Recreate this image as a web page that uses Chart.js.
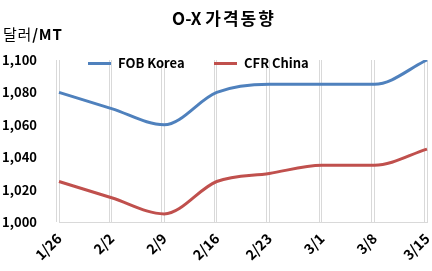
<!DOCTYPE html>
<html>
<head>
<meta charset="utf-8">
<script src="https://cdn.jsdelivr.net/npm/chart.js@4"></script>
<style>
  html, body { margin: 0; padding: 0; background: #fff; }
  #wrap { position: relative; width: 432px; height: 271px; font-family: "Noto Sans CJK KR", "Noto Sans", sans-serif; }
  #title { position: absolute; left: 8px; width: 432px; top: 18px; line-height: 0; text-align: center; font-size: 17px; font-weight: bold; color: #000; }
  #title span { letter-spacing: 2px; }
  #unit { position: absolute; left: 3px; top: 34px; line-height: 0; font-size: 15px; letter-spacing: 0.8px; color: #000; }
  #unit b { font-weight: bold; }
  .leg { position: absolute; top: 63px; line-height: 0; font-size: 13px; font-weight: bold; color: #000; white-space: nowrap; }
  .leg i { display: inline-block; width: 23px; height: 3px; vertical-align: middle; margin-right: 7px; position: relative; top: -1px; }
</style>
</head>
<body>
<div id="wrap">
  <canvas id="chart"></canvas>
  <div id="title">O-X <span>가격동향</span></div>
  <div id="unit">달러<b>/MT</b></div>
  <div class="leg" style="left:88px"><i style="background:#4F81BD"></i>FOB Korea</div>
  <div class="leg" style="left:214px"><i style="background:#C0504D"></i>CFR China</div>
</div>
<script>
const weeks = ["1/26", "2/2", "2/9", "2/16", "2/23", "3/1", "3/8", "3/15"]
const fobKorea = [1080, 1070, 1060, 1080, 1085, 1085, 1085, 1100]
const cfrChina = [1025, 1015, 1005, 1025, 1030, 1035, 1035, 1045]

/* second gridline a few px left of each category, like the excel original */
const doubleGrid = {
  id: "doubleGrid",
  beforeDatasetsDraw(chart) {
    const { ctx, chartArea, scales } = chart
    ctx.save()
    ctx.strokeStyle = "#d9d9d9"
    ctx.lineWidth = 1
    scales.x.ticks.forEach((t, i) => {
      const x = Math.round(scales.x.getPixelForTick(i)) - 3 + 0.5
      ctx.beginPath()
      ctx.moveTo(x, chartArea.top)
      ctx.lineTo(x, chartArea.bottom)
      ctx.stroke()
    })
    ctx.restore()
  }
}

new Chart(document.getElementById("chart"), {
  type: "line",
  data: {
    labels: weeks,
    datasets: [
      { label: "FOB Korea", data: fobKorea, borderColor: "#4F81BD", borderWidth: 3, pointRadius: 0, cubicInterpolationMode: "monotone" },
      { label: "CFR China", data: cfrChina, borderColor: "#C0504D", borderWidth: 3, pointRadius: 0, cubicInterpolationMode: "monotone" }
    ]
  },
  options: {
    responsive: true,
    maintainAspectRatio: false,
    animation: false,
    layout: { padding: { top: 60, right: 5, left: 0, bottom: 0 } },
    plugins: { legend: { display: false }, title: { display: false }, tooltip: { enabled: false } },
    scales: {
      x: {
        offset: false,
        afterFit: s => { s.height = 49; s.paddingRight = 0 },
        grid: { color: "#d9d9d9", drawTicks: false },
        border: { color: "#d9d9d9" },
        ticks: {
          color: "#000",
          font: { family: "Noto Sans CJK KR", size: 14, weight: "bold" },
          minRotation: 45, maxRotation: 45, padding: 8
        }
      },
      y: {
        min: 1000, max: 1100,
        afterFit: s => { s.width = 59 },
        grid: { display: false, drawTicks: false },
        border: { display: false },
        ticks: {
          stepSize: 20,
          color: "#000",
          padding: 22,
          font: { family: "Noto Sans CJK KR", size: 13, weight: "bold" },
          callback: v => v.toLocaleString("en-US")
        }
      }
    }
  },
  plugins: [doubleGrid]
})
</script>
</body>
</html>
